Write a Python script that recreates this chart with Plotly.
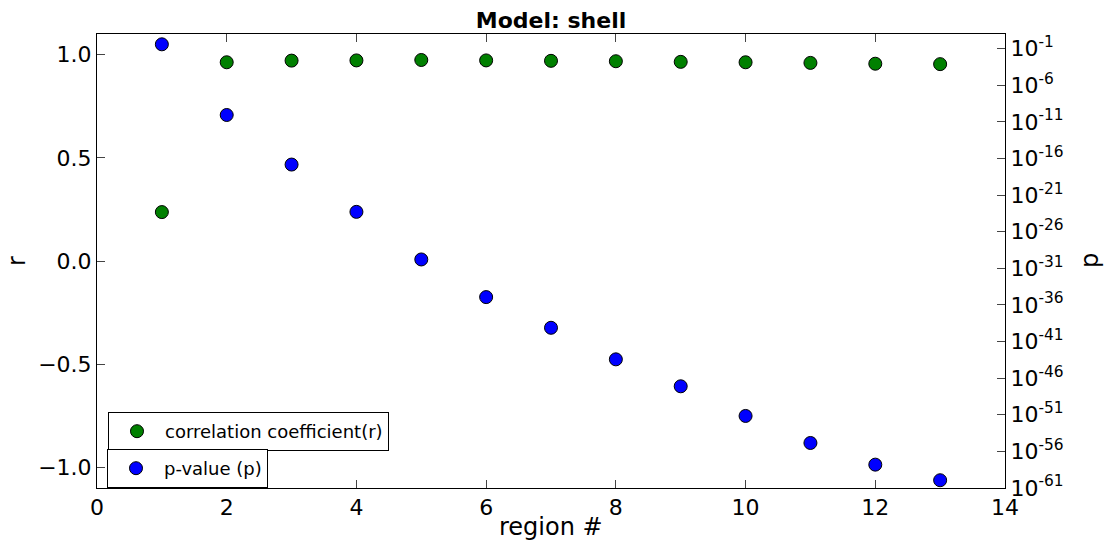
import plotly.graph_objects as go

# Region index along the x axis
regions = [1, 2, 3, 4, 5, 6, 7, 8, 9, 10, 11, 12, 13]

# Correlation coefficient per region
r_values = [0.237, 0.963, 0.971, 0.972, 0.974, 0.972, 0.970, 0.968,
            0.965, 0.963, 0.960, 0.956, 0.954]

# p-value per region, given as log10(p)
log10_p = [-0.41, -10.06, -16.83, -23.29, -29.79, -34.93, -39.12, -43.43,
           -47.11, -51.16, -54.85, -57.81, -59.94]
p_values = [10 ** v for v in log10_p]

# Tick definitions
x_ticks = [0, 2, 4, 6, 8, 10, 12, 14]
r_ticks = [-1.0, -0.5, 0.0, 0.5, 1.0]
p_exponents = [-1, -6, -11, -16, -21, -26, -31, -36, -41, -46, -51, -56, -61]

FONT = "DejaVu Sans"
TICK_FONT = dict(family=FONT, size=22, color="black")
LABEL_FONT = dict(family=FONT, size=24, color="black")

W, H = 1107, 546
M_L, M_R, M_T, M_B = 97, 102, 34, 58
plot_w = W - M_L - M_R
plot_h = H - M_T - M_B


def py(pix):
    """Convert a pixel row of the page to a paper y coordinate."""
    return (H - M_B - pix) / plot_h


fig = go.Figure()

fig.add_trace(go.Scatter(
    x=regions, y=r_values, mode="markers",
    name="correlation coefficient(r)",
    marker=dict(color="#008000", size=13, line=dict(color="black", width=1)),
    yaxis="y", legend="legend",
))

fig.add_trace(go.Scatter(
    x=regions, y=p_values, mode="markers",
    name="p-value (p)",
    marker=dict(color="#0000ff", size=13, line=dict(color="black", width=1)),
    yaxis="y2", legend="legend2",
))

axis_common = dict(
    showgrid=False, zeroline=False, automargin=False,
    showline=True, linecolor="black", linewidth=1,
    ticks="inside", ticklen=8, tickwidth=1, tickcolor="#444",
    tickfont=TICK_FONT,
)

legend_common = dict(
    xanchor="left", yanchor="top",
    bgcolor="white", bordercolor="black", borderwidth=1,
    font=dict(family=FONT, size=18, color="black"),
    itemwidth=46,
)

fig.update_layout(
    width=W, height=H,
    margin=dict(l=M_L, r=M_R, t=M_T, b=M_B, autoexpand=False),
    paper_bgcolor="white", plot_bgcolor="white",
    font=dict(family=FONT, color="black"),
    title=dict(
        text="<b>Model: shell</b>",
        font=dict(family=FONT, size=22, color="black"),
        x=0.5, xref="paper", xanchor="center",
        y=1 - 20 / H, yref="container", yanchor="middle",
    ),
    xaxis=dict(
        **axis_common,
        range=[0, 14], tickvals=x_ticks,
        mirror="ticks",
    ),
    yaxis=dict(
        **axis_common,
        range=[-1.1, 1.1], tickvals=r_ticks, tickformat=".1f",
        mirror=True,
    ),
    yaxis2=dict(
        **axis_common,
        type="log", overlaying="y", side="right",
        range=[-61, 1],
        tickvals=[10 ** e for e in p_exponents],
        ticktext=[f"10<sup>{e}</sup>" for e in p_exponents],
    ),
    legend=dict(**legend_common, x=(108 - M_L) / plot_w, y=py(412)),
    legend2=dict(**legend_common, x=(107 - M_L) / plot_w, y=py(449)),
    showlegend=True,
)

# Axis titles
fig.add_annotation(
    text="region #", font=LABEL_FONT, showarrow=False,
    xref="paper", yref="paper", x=0.5, y=py(527),
    xanchor="center", yanchor="middle",
)
fig.add_annotation(
    text="r", font=LABEL_FONT, showarrow=False, textangle=-90,
    xref="paper", yref="paper", x=-(M_L - 17) / plot_w, y=0.5,
    xanchor="center", yanchor="middle",
)
fig.add_annotation(
    text="p", font=LABEL_FONT, showarrow=False, textangle=-90,
    xref="paper", yref="paper", x=1 + (1090 - (W - M_R)) / plot_w, y=0.5,
    xanchor="center", yanchor="middle",
)

fig.write_html("out.html")
